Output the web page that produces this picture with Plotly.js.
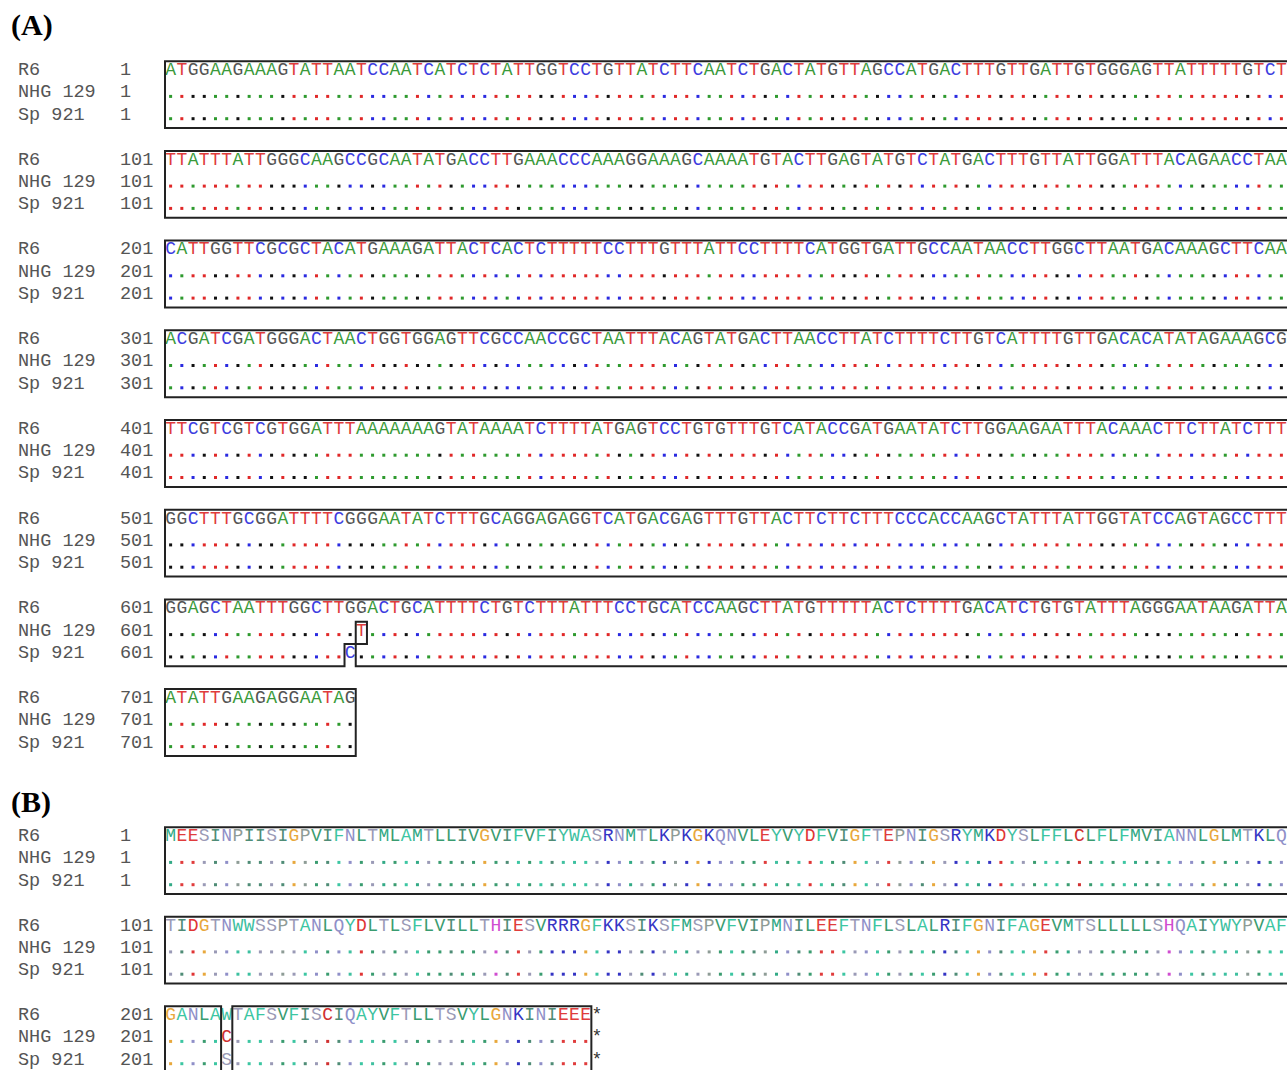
<!DOCTYPE html>
<html><head><meta charset="utf-8">
<script src="https://cdn.plot.ly/plotly-3.0.1.min.js"></script>
<style>html,body{margin:0;padding:0;background:#fff;}#chart{width:1287px;height:1070px;}</style>
</head><body><div id="chart"></div>
<script>
// ---------------- DATA ----------------
const seqNames = ["R6", "NHG 129", "Sp 921"];
const panelLabels = ["(A)", "(B)"];
const lineLength = 100;

// Reference nucleotide sequence (R6), one string per alignment line
const dnaR6 = [
  "ATGGAAGAAAGTATTAATCCAATCATCTCTATTGGTCCTGTTATCTTCAATCTGACTATGTTAGCCATGACTTTGTTGATTGTGGGAGTTATTTTTGTCT",
  "TTATTTATTGGGCAAGCCGCAATATGACCTTGAAACCCAAAGGAAAGCAAAATGTACTTGAGTATGTCTATGACTTTGTTATTGGATTTACAGAACCTAA",
  "CATTGGTTCGCGCTACATGAAAGATTACTCACTCTTTTTCCTTTGTTTATTCCTTTTCATGGTGATTGCCAATAACCTTGGCTTAATGACAAAGCTTCAA",
  "ACGATCGATGGGACTAACTGGTGGAGTTCGCCAACCGCTAATTTACAGTATGACTTAACCTTATCTTTTCTTGTCATTTTGTTGACACATATAGAAAGCG",
  "TTCGTCGTCGTGGATTTAAAAAAAGTATAAAATCTTTTATGAGTCCTGTGTTTGTCATACCGATGAATATCTTGGAAGAATTTACAAACTTCTTATCTTT",
  "GGCTTTGCGGATTTTCGGGAATATCTTTGCAGGAGAGGTCATGACGAGTTTGTTACTTCTTCTTTCCCACCAAGCTATTTATTGGTATCCAGTAGCCTTT",
  "GGAGCTAATTTGGCTTGGACTGCATTTTCTGTCTTTATTTCCTGCATCCAAGCTTATGTTTTTACTCTTTTGACATCTGTGTATTTAGGGAATAAGATTA",
  "ATATTGAAGAGGAATAG"
];
// Nucleotide differences from R6: [position (1-based), base]
const dnaVariantsNHG129 = [[618, "T"]];
const dnaVariantsSp921  = [[617, "C"]];

// Reference amino-acid sequence (R6)
const protR6 = [
  "MEESINPIISIGPVIFNLTMLAMTLLIVGVIFVFIYWASRNMTLKPKGKQNVLEYVYDFVIGFTEPNIGSRYMKDYSLFFLCLFLFMVIANNLGLMTKLQ",
  "TIDGTNWWSSPTANLQYDLTLSFLVILLTHIESVRRRGFKKSIKSFMSPVFVIPMNILEEFTNFLSLALRIFGNIFAGEVMTSLLLLLSHQAIYWYPVAF",
  "GANLAWTAFSVFISCIQAYVFTLLTSVYLGNKINIEEE*"
];
const protVariantsNHG129 = [[206, "C"]];
const protVariantsSp921  = [[206, "S"]];

// ---------------- STYLE ----------------
const dnaColors = {A:"#3a9a3a", C:"#3d3de0", G:"#555555", T:"#e03c3c", "*":"#333333"};
const dnaDotColors = {A:"#2e9a2e", C:"#2a2ae0", G:"#111111", T:"#e02828", "*":"#333333"};
const protColors = {
  A:"#3cc6a2", F:"#3cc6a2", W:"#3cc0a0", Y:"#40c0a0", M:"#33aa86",
  I:"#4f8c76", L:"#3a9c70", V:"#3a9c70",
  P:"#8e9c96",
  S:"#9a9ab6", T:"#9a9ab6", N:"#8f8fc8", Q:"#8f8fc8",
  G:"#e8a83c", D:"#e03434", E:"#e03c3c", C:"#d03030",
  K:"#3434c4", R:"#3434c4", H:"#d04cd0", "*":"#333333"
};

const X0 = 165, CW = 11.22, ROWP = 22.3, CELL_TOP = 9.3, CELL_BOT = 13.0;
const LW = 2;
const MONO = "Liberation Mono, Courier New, monospace";

const letterX = [], letterY = [], letterT = [], letterC = [];
const dotX = [], dotY = [], dotC = [];
const shapes = [];
const annotations = [];

function applyVariants(ref, vars) {
  const a = ref.split("");
  vars.forEach(([pos, ch]) => { a[pos - 1] = ch; });
  return a.join("");
}

function buildPanel(refRows, variantSets, colors, dotColors, firstY, blockPitch) {
  const ref = refRows.join("");
  const seqs = [ref].concat(variantSets.map(v => applyVariants(ref, v)));
  const nBlocks = Math.ceil(ref.length / lineLength);
  for (let b = 0; b < nBlocks; b++) {
    const start = b * lineLength;
    const n = Math.min(lineLength, ref.length - start);
    const yc = r => firstY + b * blockPitch + r * ROWP;
    // labels
    seqNames.forEach((nm, r) => {
      annotations.push({x: 16, y: yc(r), xref: "x", yref: "y", text: nm, showarrow: false,
        xanchor: "left", yanchor: "middle", font: {family: MONO, size: 18.5, color: "#555555"}});
      annotations.push({x: 118, y: yc(r), xref: "x", yref: "y", text: String(start + 1), showarrow: false,
        xanchor: "left", yanchor: "middle", font: {family: MONO, size: 18.5, color: "#555555"}});
    });
    // cells
    const inc = [[], [], []];
    for (let c = 0; c < n; c++) {
      const idx = start + c;
      const chars = seqs.map(s => s[idx]);
      const counts = {};
      chars.forEach(ch => counts[ch] = (counts[ch] || 0) + 1);
      let maj = null;
      Object.keys(counts).forEach(k => { if (counts[k] >= 2) maj = k; });
      chars.forEach((ch, r) => {
        inc[r][c] = (maj !== null && maj !== "*" && ch === maj);
        const x = X0 + (c + 0.5) * CW;
        if (r === 0 || ch !== chars[0] || ch === "*") {
          letterX.push(x); letterY.push(yc(r)); letterT.push(ch); letterC.push(colors[ch] || "#333");
        } else {
          dotX.push(x); dotY.push(yc(r) + 3.6); dotC.push(dotColors[ch] || "#333");
        }
      });
    }
    // outline edges
    const isIn = (r, c) => r >= 0 && r < 3 && c >= 0 && c < n && inc[r][c];
    let path = "";
    const hy = k => (k === 0 ? yc(0) - CELL_TOP : yc(k - 1) + CELL_BOT);
    for (let k = 0; k <= 3; k++) {
      let runStart = null;
      for (let c = 0; c <= n; c++) {
        const edge = c < n && (isIn(k - 1, c) !== isIn(k, c));
        if (edge && runStart === null) runStart = c;
        if (!edge && runStart !== null) {
          const xa = X0 + runStart * CW - LW / 2, xb = X0 + c * CW + LW / 2;
          path += `M${xa},${hy(k)}L${xb},${hy(k)}`;
          runStart = null;
        }
      }
    }
    for (let j = 0; j <= n; j++) {
      if (j === lineLength) continue; // line continues past the picture edge
      let runStart = null;
      for (let r = 0; r <= 3; r++) {
        const edge = r < 3 && (isIn(r, j - 1) !== isIn(r, j));
        if (edge && runStart === null) runStart = r;
        if (!edge && runStart !== null) {
          const x = X0 + j * CW;
          path += `M${x},${hy(runStart)}L${x},${hy(r)}`;
          runStart = null;
        }
      }
    }
    shapes.push({type: "path", xref: "x", yref: "y", path: path, line: {color: "#222222", width: LW}});
  }
}

buildPanel(dnaR6, [dnaVariantsNHG129, dnaVariantsSp921], dnaColors, dnaDotColors, 70.5, 89.7);
buildPanel(protR6, [protVariantsNHG129, protVariantsSp921], protColors, protColors, 836.5, 89.5);

[[panelLabels[0], 25], [panelLabels[1], 802]].forEach(([t, y]) => {
  annotations.push({x: 9, y: y, xref: "x", yref: "y", text: "<b>" + t + "</b>", showarrow: false,
    xanchor: "left", yanchor: "middle", font: {family: "Liberation Serif, Times New Roman, serif", size: 30, color: "#000"}});
});

const traces = [
  {type: "scatter", mode: "markers", x: dotX, y: dotY, hoverinfo: "skip",
   marker: {symbol: "square", size: 3, color: dotC, line: {width: 0}}},
  {type: "scatter", mode: "text", x: letterX, y: letterY, text: letterT, hoverinfo: "skip",
   textposition: "middle center", textfont: {family: MONO, size: 18, color: letterC}}
];

const layout = {
  width: 1287, height: 1070, margin: {l: 0, r: 0, t: 0, b: 0, pad: 0},
  paper_bgcolor: "#ffffff", plot_bgcolor: "#ffffff", showlegend: false,
  xaxis: {range: [0, 1287], visible: false, fixedrange: true},
  yaxis: {range: [1070, 0], visible: false, fixedrange: true},
  shapes: shapes, annotations: annotations
};
Plotly.newPlot("chart", traces, layout, {displayModeBar: false, staticPlot: true});
</script></body></html>
